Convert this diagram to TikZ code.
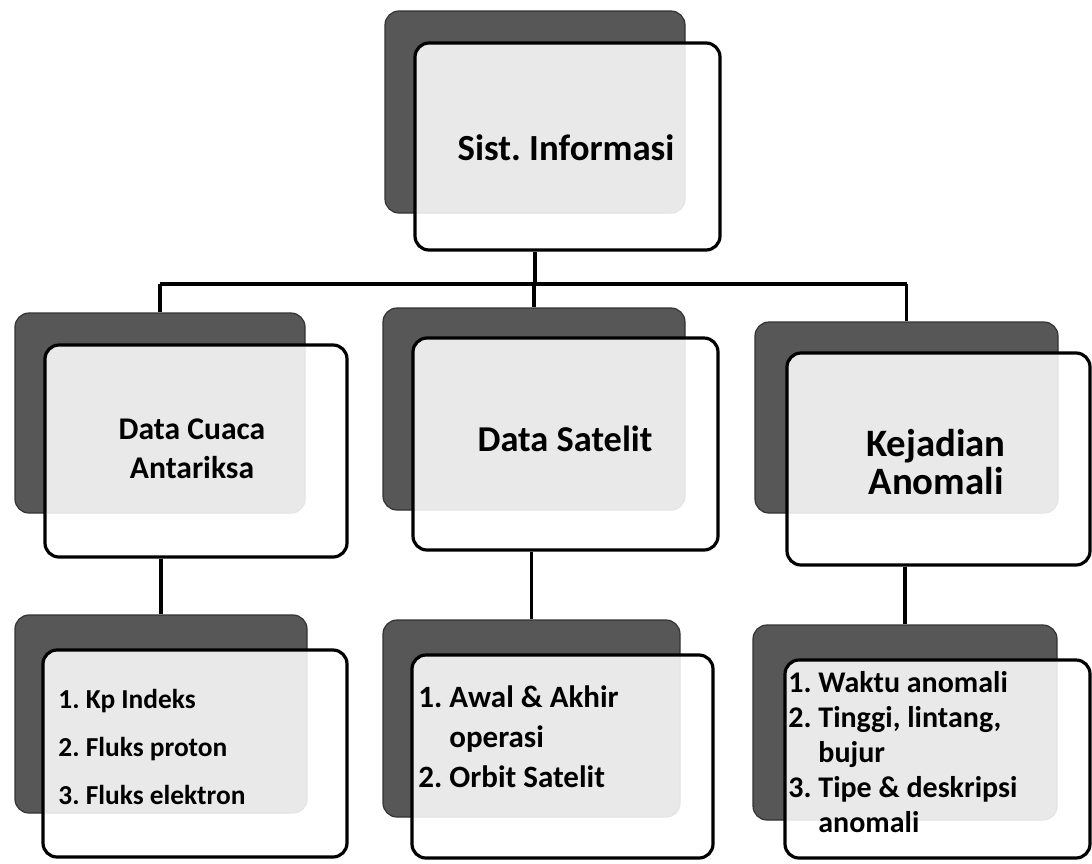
\documentclass[tikz,border=0pt]{standalone}
\usepackage{fontspec}
\setmainfont{Carlito}
\usetikzlibrary{calc}
\tikzset{
  shadowbox/.style={draw=black!80, line width=0.6pt, fill=black!66, rounded corners=7pt, inner sep=0pt},
  frontbox/.style={draw=black, line width=1.6pt, fill=white, fill opacity=0.87, rounded corners=7pt, inner sep=0pt},
  conn/.style={draw=black, line width=1.9pt},
  headtext/.style={align=center, inner sep=0pt, text=black},
  listtext/.style={inner sep=0pt, anchor=base west, text=black},
}
\begin{document}
\frenchspacing
\begin{tikzpicture}[x=0.5pt, y=-0.5pt]
\fill[white] (0,0) rectangle (1092,863);
\useasboundingbox (0,0) rectangle (1092,863);

% back (shadow) panels
\node[shadowbox, minimum width=150pt,   minimum height=101pt]  (sT)  at (535,112)   {};
\node[shadowbox, minimum width=145pt,   minimum height=100pt]  (sML) at (160,413)   {};
\node[shadowbox, minimum width=151pt,   minimum height=101pt]  (sMM) at (534,409)   {};
\node[shadowbox, minimum width=151.5pt, minimum height=95.5pt] (sMR) at (906.5,417.5) {};
\node[shadowbox, minimum width=146pt,   minimum height=99pt]   (sBL) at (161,714)   {};
\node[shadowbox, minimum width=148.5pt, minimum height=98.5pt] (sBM) at (531.5,718.5) {};
\node[shadowbox, minimum width=152pt,   minimum height=97.5pt] (sBR) at (905,722.5) {};

% front panels
\node[frontbox, minimum width=152.5pt, minimum height=103.5pt] (fT)  at (567.5,146.5) {};
\node[frontbox, minimum width=151pt,   minimum height=106pt]   (fML) at (196,451)     {};
\node[frontbox, minimum width=152.5pt, minimum height=106pt]   (fMM) at (565.5,444)   {};
\node[frontbox, minimum width=151.5pt, minimum height=106pt]   (fMR) at (938.5,459)   {};
\node[frontbox, minimum width=152pt,   minimum height=103.5pt] (fBL) at (195,753.5)   {};
\node[frontbox, minimum width=150.5pt, minimum height=101.5pt] (fBM) at (562.5,756.5) {};
\node[frontbox, minimum width=152.5pt, minimum height=99pt]    (fBR) at (937.5,759)   {};

% connectors
\coordinate (bus) at (535,284);
\draw[conn] (sT |- fT.south) -- (sT |- bus);
\draw[conn] (sML |- bus) -- (sMR |- bus);
\draw[conn] (sML |- bus) -- (sML.north);
\draw[conn] (sMM |- bus) -- (sMM.north);
\draw[conn] (sMR |- bus) -- (sMR.north);
\draw[conn] (sBL |- fML.south) -- (sBL.north);
\draw[conn] (sBM |- fMM.south) -- (sBM.north);
\draw[conn] (sBR |- fMR.south) -- (sBR.north);

% headings
\node[headtext, font=\bfseries\fontsize{18.4}{19}\selectfont] (tT) at (566,148) {Sist. Informasi};
\node[headtext, font=\bfseries\fontsize{15.8}{19.5}\selectfont] (tML) at (192,449) {Data Cuaca\\Antariksa};
\node[headtext, font=\bfseries\fontsize{18.2}{19}\selectfont] (tMM) at (565,439) {Data Satelit};
\node[headtext, font=\bfseries\fontsize{19.4}{19}\selectfont] (tMR) at (936,462) {Kejadian\\Anomali};

% item lists
\node[listtext, font=\bfseries\fontsize{13.7}{24}\selectfont] (tBL) at (58,708)
  {\begin{tabular}[t]{@{}l@{}}1.~Kp Indeks\\2.~Fluks proton\\3.~Fluks elektron\end{tabular}};
\node[listtext, font=\bfseries\fontsize{15.5}{20}\selectfont] (tBM) at (418,707)
  {\begin{tabular}[t]{@{}l@{}}1.~Awal \& Akhir\\\phantom{1.~}operasi\\2.~Orbit Satelit\end{tabular}};
\node[listtext, font=\bfseries\fontsize{15}{17.5}\selectfont] (tBR) at (788,692)
  {\begin{tabular}[t]{@{}l@{}}1.~Waktu anomali\\2.~Tinggi, lintang,\\\phantom{2.~}bujur\\3.~Tipe \& deskripsi\\\phantom{3.~}anomali\end{tabular}};
\end{tikzpicture}
\end{document}
